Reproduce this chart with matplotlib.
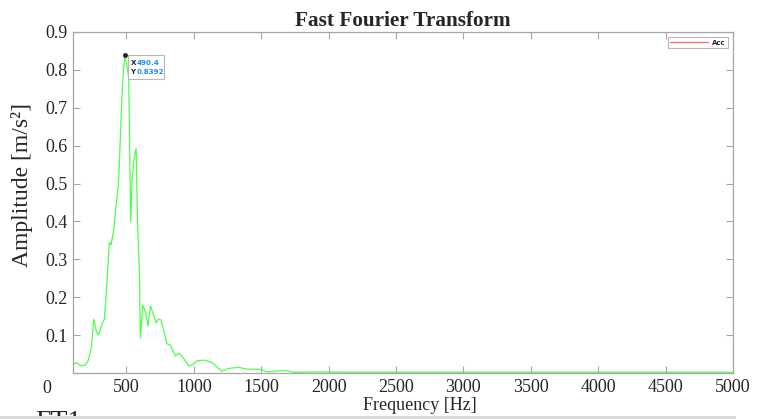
import numpy as np
import matplotlib
matplotlib.use('Agg')
import matplotlib.pyplot as plt
import matplotlib.transforms as mtransforms
from matplotlib.lines import Line2D
from matplotlib.patches import Rectangle

# spectrum
freq = [104, 129, 159, 196, 218, 241, 258, 278, 295, 320, 337, 357, 374, 386, 406,
        443, 468, 480, 490.4, 517, 532, 542, 559, 572, 584, 596, 604, 621, 641, 661,
        678, 702, 720, 739, 757, 777, 801, 826, 863, 893, 920, 962, 987, 1024, 1073,
        1135, 1184, 1209, 1258, 1332, 1395, 1493, 1543, 1642, 1691, 1740, 1914, 2200,
        2600, 3000, 3500, 4000, 4500, 5000]
amp = [0.021, 0.028, 0.019, 0.021, 0.034, 0.069, 0.142, 0.109, 0.100, 0.131, 0.142,
       0.245, 0.344, 0.338, 0.377, 0.509, 0.738, 0.808, 0.8392, 0.782, 0.399, 0.509,
       0.571, 0.593, 0.377, 0.280, 0.092, 0.179, 0.162, 0.124, 0.177, 0.153, 0.133,
       0.142, 0.140, 0.113, 0.077, 0.074, 0.045, 0.052, 0.041, 0.019, 0.021, 0.032,
       0.034, 0.028, 0.012, 0.005, 0.012, 0.015, 0.010, 0.010, 0.003, 0.006, 0.006,
       0.002, 0.003, 0.002, 0.002, 0.002, 0.002, 0.002, 0.002, 0.002]
peak_f = 490.4
peak_a = 0.8392
xticks = [500, 1000, 1500, 2000, 2500, 3000, 3500, 4000, 4500, 5000]
yticks = [0, 0.1, 0.2, 0.3, 0.4, 0.5, 0.6, 0.7, 0.8, 0.9]

serif = ['Liberation Serif', 'DejaVu Serif']
axcol = '#a6a6a6'
txtcol = '#262626'

fig = plt.figure(figsize=(7.58, 4.19), dpi=100)
ax = fig.add_axes([73 / 758, 1 - 373 / 419, 660 / 758, 341 / 419])

ax.plot(freq, amp, color='#4dff4d', lw=0.9)
ax.plot([peak_f], [peak_a], 'o', color='#222222', ms=2.5)

ax.set_xlim(104, 5000)
ax.set_ylim(0, 0.9)
ax.set_xticks(xticks)
ax.set_yticks(yticks)
ax.set_yticklabels(['0'] + ['%.1f' % v for v in yticks[1:]])
ax.tick_params(direction='in', length=5, width=0.8, color=axcol, top=True, right=True,
               labelsize=13, pad=4)
for lab in ax.get_xticklabels() + ax.get_yticklabels():
    lab.set_family(serif)
    lab.set_color(txtcol)
for s in ax.spines.values():
    s.set_color(axcol)
    s.set_linewidth(0.9)

# the zero label sits lower left in the original
zl = ax.get_yticklabels()[0]
zl.set_transform(zl.get_transform() + mtransforms.ScaledTranslation(-0.16, -0.13, fig.dpi_scale_trans))

ax.set_title('Fast Fourier Transform', family=serif, fontweight='bold', fontsize=15.3,
             color=txtcol, pad=4)
ax.set_xlabel('Frequency [Hz]', family=serif, fontsize=13, color=txtcol)
ax.xaxis.set_label_coords(0.526, -0.07)
ax.set_ylabel('Amplitude [m/s²]', family=serif, fontsize=17, color=txtcol)
ax.yaxis.set_label_coords(-0.061, 0.55)

# data tip
ax.add_patch(Rectangle((128 / 758, 1 - 79 / 419), 36 / 758, 24 / 419, transform=fig.transFigure,
                       facecolor='white', edgecolor='#b8b8b8', lw=0.8, zorder=4))
tip = dict(fontsize=5.1, fontweight='bold', va='center', ha='left', family='DejaVu Sans', zorder=5)
fig.text(130.5 / 758, 1 - 63 / 419, 'X', color=txtcol, **tip)
fig.text(137 / 758, 1 - 63 / 419, '490.4', color='#1a8cff', **tip)
fig.text(130.5 / 758, 1 - 72 / 419, 'Y', color=txtcol, **tip)
fig.text(137 / 758, 1 - 72 / 419, '0.8392', color='#1a8cff', **tip)

# legend
h = Line2D([], [], color='#ff7070', lw=1)
leg = ax.legend([h], ['Acc'], loc='upper right', bbox_to_anchor=(0.993, 0.985), frameon=True,
                fancybox=False, prop={'size': 5, 'weight': 'bold', 'family': 'DejaVu Sans'},
                handlelength=5.5, borderpad=0.35, handletextpad=0.6, borderaxespad=0)
leg.get_frame().set_edgecolor(axcol)
leg.get_frame().set_linewidth(0.8)
for t in leg.get_texts():
    t.set_color(txtcol)

# cropped bits from the screenshot
fig.text(407 / 758, 1 + 9 / 419, '[-]', family=serif, fontsize=12, ha='center', va='center', color=txtcol)
fig.text(35 / 758, 1 - 429 / 419, 'FT1', family=serif, fontsize=20, ha='left', va='baseline', color=txtcol)
fig.patches.append(Rectangle((0, 0), 736 / 758, 3.5 / 419, transform=fig.transFigure,
                             facecolor='#d9d9d9', edgecolor='none', zorder=5))

fig.savefig('out.png', dpi=100)
